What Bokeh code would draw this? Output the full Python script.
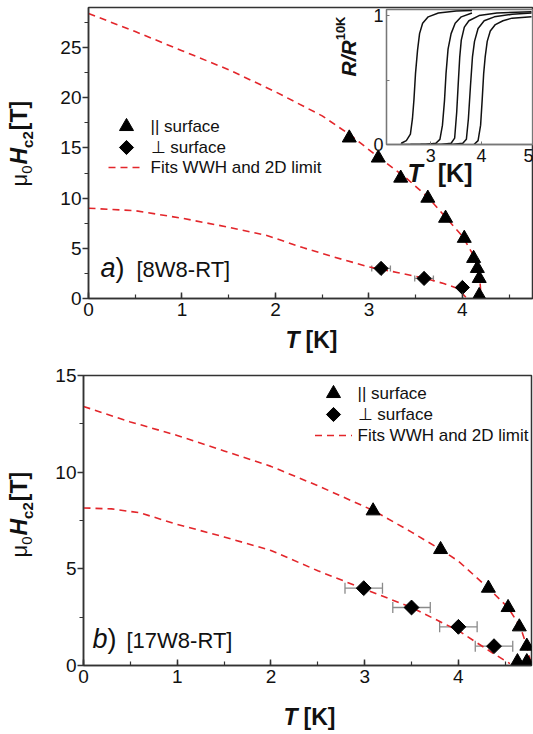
import numpy as np
from bokeh.plotting import figure
from bokeh.models import (Range1d, SingleIntervalTicker, FixedTicker, Label,
                          Whisker, ColumnDataSource, TeeHead)
from bokeh.embed import file_html
from bokeh.resources import INLINE

FONT = "Liberation Sans"

# ---------------- data: panel a) [8W8-RT] ----------------
a_par_T = [2.79, 3.10, 3.34, 3.63, 3.82, 4.02, 4.12, 4.16, 4.18, 4.18]
a_par_H = [16.0, 14.0, 12.0, 10.0, 8.0, 6.0, 4.0, 3.0, 2.0, 0.3]
a_perp_T = [3.13, 3.59, 4.00]
a_perp_H = [3.0, 2.0, 1.1]
a_perp_err = [0.1, 0.1, 0.0]
a_fit_par_T = [0, 0.5, 1.0, 1.5, 2.0, 2.5, 2.8, 3.1, 3.4, 3.63, 3.82, 4.0, 4.1, 4.16, 4.19, 4.2]
a_fit_par_H = [28.4, 26.6, 24.7, 22.8, 20.6, 18.2, 16.3, 14.1, 12.0, 10.1, 8.1, 6.2, 4.6, 3.1, 1.5, 0.0]
a_fit_perp_T = [0, 0.5, 1.0, 1.5, 1.9, 2.3, 2.6, 3.0, 3.3, 3.6, 3.8, 3.95, 4.05]
a_fit_perp_H = [9.0, 8.75, 8.0, 7.1, 6.3, 5.05, 4.2, 3.15, 2.6, 2.0, 1.5, 1.0, 0.0]

# ---------------- data: panel b) [17W8-RT] ----------------
b_par_T = [3.09, 3.81, 4.32, 4.53, 4.65, 4.73, 4.63, 4.73]
b_par_H = [8.0, 6.0, 4.0, 3.0, 2.0, 1.0, 0.2, 0.2]
b_perp_T = [2.99, 3.50, 4.00, 4.38]
b_perp_H = [4.0, 3.0, 2.0, 1.0]
b_perp_err = [0.2, 0.2, 0.2, 0.2]
b_fit_par_T = [0, 0.5, 1.0, 1.5, 2.0, 2.5, 3.1, 3.5, 3.81, 4.0, 4.32, 4.53, 4.66, 4.73, 4.78]
b_fit_par_H = [13.4, 12.6, 11.9, 11.1, 10.3, 9.3, 8.0, 6.9, 6.0, 5.4, 4.0, 3.0, 2.0, 1.0, 0.0]
b_fit_perp_T = [0, 0.3, 0.6, 1.0, 1.5, 2.0, 2.5, 3.0, 3.5, 4.0, 4.38, 4.55]
b_fit_perp_H = [8.15, 8.1, 7.9, 7.3, 6.65, 5.95, 4.9, 3.95, 3.0, 1.8, 0.6, 0.1]

# ---------------- inset: R/R10K vs T ----------------
r1_T = [2.42, 2.52, 2.60, 2.64, 2.67, 2.70, 2.74, 2.78, 2.84, 2.95, 3.15, 3.5, 3.81]
r1_R = [0.01, 0.03, 0.08, 0.20, 0.35, 0.55, 0.73, 0.86, 0.94, 0.99, 1.02, 1.035, 1.04]
r2_T = [2.40, 2.90, 3.10, 3.18, 3.23, 3.27, 3.30, 3.34, 3.40, 3.48, 3.60, 3.81]
r2_R = [0.0, 0.0, 0.01, 0.04, 0.15, 0.34, 0.55, 0.74, 0.86, 0.94, 0.99, 1.02]
r3_T = [2.60, 3.20, 3.40, 3.47, 3.51, 3.54, 3.57, 3.60, 3.66, 3.75, 3.95, 4.30, 4.98]
r3_R = [0.0, 0.0, 0.01, 0.05, 0.25, 0.47, 0.68, 0.81, 0.91, 0.96, 1.00, 1.02, 1.03]
r4_T = [2.80, 3.40, 3.63, 3.70, 3.74, 3.78, 3.82, 3.86, 3.93, 4.05, 4.25, 4.60, 4.98]
r4_R = [0.0, 0.0, 0.01, 0.04, 0.20, 0.45, 0.68, 0.80, 0.90, 0.96, 0.99, 1.01, 1.02]
r5_T = [3.85, 3.93, 3.98, 4.01, 4.04, 4.07, 4.11, 4.17, 4.27, 4.42, 4.60, 4.98]
r5_R = [0.0, 0.03, 0.15, 0.34, 0.55, 0.68, 0.80, 0.88, 0.93, 0.96, 0.98, 0.99]

LEG_PAR = "|| surface"
LEG_PERP = "⊥ surface"
LEG_FIT = "Fits WWH and 2D limit"

RED = "#e3262b"
AXC = "#333333"
TXT = "#111111"

W_REG = {'μ': 0.576, ' ': 0.278, '[': 0.278, ']': 0.278, ')': 0.333, 'a': 0.556, 'b': 0.556,
         'T': 0.611, 'K': 0.667, 'R': 0.722, 'W': 0.944, '-': 0.333, '/': 0.278}
W_BOLD = {' ': 0.278, '[': 0.333, ']': 0.333, ')': 0.333, 'T': 0.611, 'K': 0.722, 'H': 0.722,
          'c': 0.556, 'R': 0.722, '/': 0.278, 'a': 0.556, 'b': 0.611}


def twidth(s, size, style):
    tab = W_BOLD if 'bold' in style else W_REG
    return sum(tab.get(ch, 0.556) for ch in s) * size


def composed(p, x, y, pieces, vertical=False):
    """Run of differently styled text pieces; (x, y) = start of the baseline in
    overlay pixel coordinates (y downwards)."""
    adv = 0.0
    for text, size, style, shift, gap in pieces:
        adv += gap
        mid = shift - 0.35 * size   # centre line, measured in the text's "down" direction
        kw = dict(text=text, text_font=FONT, text_font_size=f"{size}px",
                  text_font_style=style, text_color=TXT, text_align="left",
                  text_baseline="middle")
        if vertical:
            lab = Label(x=x + mid, y=y - adv, angle=np.pi / 2, **kw)
        else:
            lab = Label(x=x + adv, y=y + mid, **kw)
        p.add_layout(lab)
        adv += twidth(text, size, style)


def style_main(p, yint):
    p.xaxis.ticker = SingleIntervalTicker(interval=1, num_minor_ticks=2)
    p.yaxis.ticker = SingleIntervalTicker(interval=yint, num_minor_ticks=2)
    for ax in p.xaxis:
        ax.major_tick_in = 6; ax.major_tick_out = 0
        ax.minor_tick_in = 4; ax.minor_tick_out = 0
        ax.major_label_standoff = 4
    for ax in p.yaxis:
        ax.major_tick_in = 0; ax.major_tick_out = 6
        ax.minor_tick_in = 0; ax.minor_tick_out = 4
        ax.major_label_standoff = 1
    for ax in p.axis:
        ax.axis_line_color = AXC; ax.axis_line_width = 1.5
        ax.major_tick_line_color = AXC; ax.major_tick_line_width = 1.5
        ax.minor_tick_line_color = AXC; ax.minor_tick_line_width = 1.2
        ax.major_label_text_font = FONT
        ax.major_label_text_font_size = "19px"
        ax.major_label_text_color = TXT
    p.grid.visible = False
    p.outline_line_color = AXC
    p.outline_line_width = 1.5
    p.outline_line_alpha = 1.0
    p.background_fill_color = "white"
    p.border_fill_color = "white"


def panel(width, height, xr, yr, borders, yint,
          par_T, par_H, perp_T, perp_H, perp_err,
          fpT, fpH, fqT, fqH, tri_size, dia_size, cap, top):
    bl, br, bt, bb = borders
    p = figure(width=width, height=height, x_range=Range1d(*xr), y_range=Range1d(*yr),
               output_backend="svg", toolbar_location=None,
               min_border_left=bl, min_border_right=br, min_border_top=bt, min_border_bottom=bb)
    p.styles = {"position": "absolute", "left": "0px", "top": f"{top}px"}
    style_main(p, yint)
    p.line(fpT, fpH, line_color=RED, line_width=1.6, line_dash="7 5")
    p.line(fqT, fqH, line_color=RED, line_width=1.6, line_dash="7 5")
    lo = [t - e for t, e in zip(perp_T, perp_err)]
    hi = [t + e for t, e in zip(perp_T, perp_err)]
    src = ColumnDataSource(dict(y=perp_H, lo=lo, hi=hi))
    wk = Whisker(source=src, base="y", lower="lo", upper="hi", dimension="width",
                 line_color="#8a8a8a", line_width=1.3, level="underlay",
                 upper_head=TeeHead(size=cap, line_color="#8a8a8a", line_width=1.3),
                 lower_head=TeeHead(size=cap, line_color="#8a8a8a", line_width=1.3))
    p.add_layout(wk)
    p.scatter(par_T, par_H, marker="triangle", size=tri_size,
              fill_color="black", line_color="black")
    p.scatter(perp_T, perp_H, marker="square", angle=np.pi / 4, size=dia_size,
              fill_color="black", line_color="black")
    return p


# ---------------- top panel ----------------
pa = panel(533, 360, (0, 4.75), (0, 29), (88, 1, 7, 62), 5,
           a_par_T, a_par_H, a_perp_T, a_perp_H, a_perp_err,
           a_fit_par_T, a_fit_par_H, a_fit_perp_T, a_fit_perp_H,
           14, 10, 6, 0)

# ---------------- bottom panel ----------------
pb = panel(533, 374, (0, 4.78), (0, 15), (83, 2, 15, 69), 5,
           b_par_T, b_par_H, b_perp_T, b_perp_H, b_perp_err,
           b_fit_par_T, b_fit_par_H, b_fit_perp_T, b_fit_perp_H,
           14, 10.5, 11, 360)

# ---------------- inset ----------------
ins = figure(width=203, height=189, x_range=Range1d(2.13, 5.0), y_range=Range1d(0, 1.047),
             output_backend="svg", toolbar_location=None,
             min_border_left=56, min_border_right=1, min_border_top=9, min_border_bottom=45)
ins.styles = {"position": "absolute", "left": "330px", "top": "0px", "z-index": "5"}
ins.grid.visible = False
ins.background_fill_color = "white"
ins.border_fill_alpha = 0
ins.outline_line_color = "#777777"
ins.outline_line_width = 1.3
ins.xaxis.ticker = FixedTicker(ticks=[3, 4, 5], minor_ticks=[])
ins.yaxis.ticker = FixedTicker(ticks=[0, 1], minor_ticks=[0.5])
for ax in ins.axis:
    ax.axis_line_color = "#777777"; ax.axis_line_width = 1.3
    ax.major_tick_in = 3; ax.major_tick_out = 0
    ax.minor_tick_in = 3; ax.minor_tick_out = 0
    ax.major_tick_line_color = "#777777"; ax.minor_tick_line_color = "#777777"
    ax.major_label_text_font = FONT
    ax.major_label_text_font_size = "18px"
    ax.major_label_text_color = TXT
ins.xaxis.major_label_standoff = 4
ins.yaxis.major_label_standoff = 3
for tt, rr in [(r1_T, r1_R), (r2_T, r2_R), (r3_T, r3_R), (r4_T, r4_R), (r5_T, r5_R)]:
    ins.line(tt, rr, line_color="#111111", line_width=1.5)

# ---------------- text / legend overlay (pixel coordinates, y downwards) ----------------
ov = figure(width=533, height=734, x_range=Range1d(0, 533), y_range=Range1d(734, 0),
            output_backend="svg", toolbar_location=None,
            x_axis_type=None, y_axis_type=None, min_border=0)
ov.styles = {"position": "absolute", "left": "0px", "top": "0px", "z-index": "10",
             "pointer-events": "none"}
ov.grid.visible = False
ov.outline_line_color = None
ov.background_fill_alpha = 0
ov.border_fill_alpha = 0

YLAB = [("μ", 22, "normal", 0, 0), ("0", 15, "normal", 5, 0),
        ("H", 23, "bold italic", 0, 1), ("c2", 15, "bold", 5, 0),
        ("[T]", 23, "bold", 0, 1)]
XLAB = [("T", 23, "bold italic", 0, 0), ("[K]", 23, "bold", 0, 6)]

composed(ov, 27, 186, YLAB, vertical=True)
composed(ov, 27, 557, YLAB, vertical=True)
composed(ov, 285, 348, XLAB)
composed(ov, 283, 725, XLAB)
composed(ov, 100, 277, [("a", 27, "italic", 0, 0), (")", 27, "normal", 0, 0),
                        ("[8W8-RT]", 22, "normal", 0, 12)])
composed(ov, 92, 648, [("b", 27, "italic", 0, 0), (")", 27, "normal", 0, 0),
                       ("[17W8-RT]", 22, "normal", 0, 10)])
# inset labels
composed(ov, 355, 76, [("R/R", 21, "bold italic", 0, 0), ("10K", 13, "bold", -10, 0)],
         vertical=True)
composed(ov, 407, 181, [("T", 25, "bold italic", 0, 0), ("[K]", 25, "bold", 0, 15)])


def legend_block(p, gx, tx, ys, glyph_w):
    y1, y2, y3 = ys
    p.scatter([gx], [y1], marker="triangle", size=14, fill_color="black", line_color="black")
    p.scatter([gx], [y2], marker="square", angle=np.pi / 4, size=10,
              fill_color="black", line_color="black")
    p.line([gx - glyph_w / 2, gx + glyph_w / 2], [y3, y3], line_color=RED,
           line_width=1.6, line_dash="7 5")
    for t, yy in zip([LEG_PAR, LEG_PERP, LEG_FIT], ys):
        p.add_layout(Label(x=tx, y=yy, text=t, text_font=FONT, text_font_size="17px",
                           text_color=TXT, text_align="left", text_baseline="middle"))


legend_block(ov, 126, 150, (126, 147, 167), 36)
legend_block(ov, 333, 357, (393, 414, 435), 37)

open("out.html", "w").write(file_html([pa, pb, ins, ov], INLINE))
